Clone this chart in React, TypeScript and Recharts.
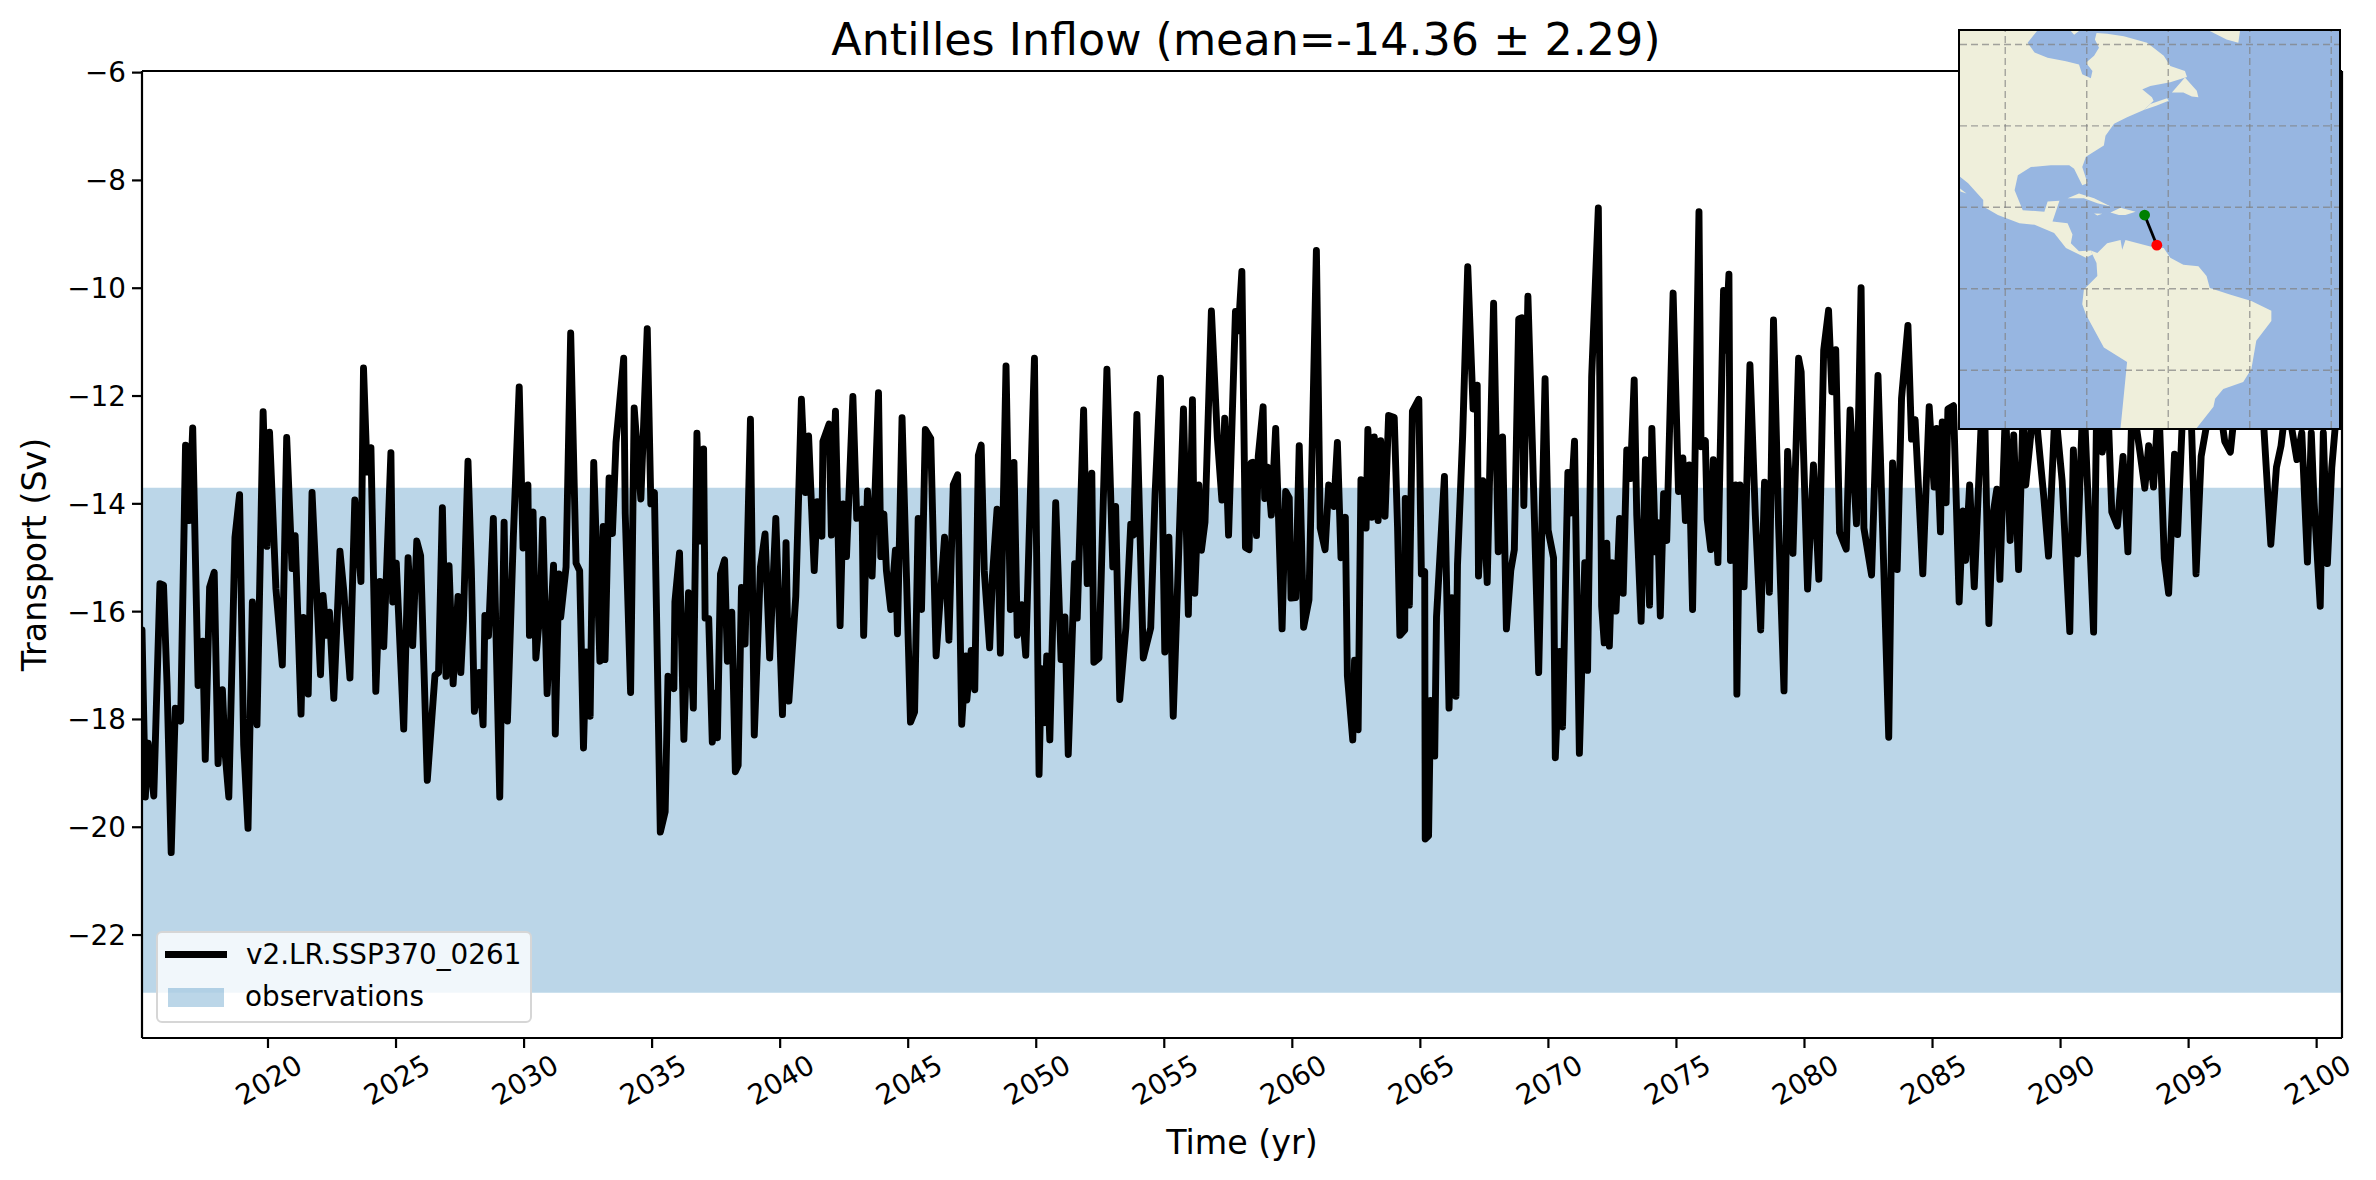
// App.tsx
import {
  ComposedChart,
  LineChart,
  Line,
  XAxis,
  YAxis,
  Label,
  ReferenceArea,
  ReferenceLine,
} from "recharts";

const FONT = "DejaVu Sans";

// [year, transport in Sv] at the turning points of the curve
const transport2015to2036 = [
  [2015.08, -16.34], [2015.21, -19.44], [2015.32, -18.44], [2015.54, -19.42], [2015.78, -15.48], [2015.92, -15.51],
  [2016.06, -17.37], [2016.22, -20.47], [2016.38, -17.79], [2016.59, -18.03], [2016.78, -12.91], [2016.92, -14.31],
  [2017.06, -12.59], [2017.27, -17.37], [2017.45, -16.55], [2017.55, -18.74], [2017.72, -15.55], [2017.9, -15.27],
  [2018.05, -18.82], [2018.22, -17.45], [2018.33, -18.65], [2018.47, -19.44], [2018.71, -14.62], [2018.89, -13.83],
  [2019.05, -18.47], [2019.22, -20.02], [2019.39, -15.82], [2019.57, -18.1], [2019.81, -12.29], [2019.96, -14.79],
  [2020.06, -12.67], [2020.31, -15.58], [2020.56, -16.99], [2020.73, -12.77], [2020.94, -15.2], [2021.06, -14.59],
  [2021.29, -17.9], [2021.38, -16.11], [2021.57, -17.53], [2021.72, -13.79], [2022.05, -17.17], [2022.15, -15.7],
  [2022.28, -16.44], [2022.4, -16.01], [2022.57, -17.61], [2022.81, -14.88], [2022.96, -15.62], [2023.2, -17.23],
  [2023.39, -13.93], [2023.63, -15.44], [2023.73, -11.48], [2023.87, -13.41], [2024.02, -12.96], [2024.21, -17.48],
  [2024.37, -15.44], [2024.52, -16.65], [2024.8, -13.05], [2024.87, -15.82], [2025.01, -15.1], [2025.3, -18.18],
  [2025.47, -15.0], [2025.65, -16.63], [2025.81, -14.69], [2025.96, -14.96], [2026.22, -19.13], [2026.52, -17.18],
  [2026.66, -17.13], [2026.81, -14.07], [2026.95, -17.2], [2027.07, -15.15], [2027.23, -17.34], [2027.42, -15.72],
  [2027.53, -17.13], [2027.63, -16.17], [2027.81, -13.21], [2027.94, -15.2], [2028.06, -17.85], [2028.25, -17.13],
  [2028.4, -18.1], [2028.47, -16.07], [2028.61, -16.45], [2028.8, -14.27], [2029.05, -19.44], [2029.22, -14.34],
  [2029.35, -18.03], [2029.58, -14.62], [2029.81, -11.83], [2029.96, -14.82], [2030.15, -13.65], [2030.21, -16.44],
  [2030.35, -14.15], [2030.46, -16.86], [2030.63, -15.96], [2030.73, -14.29], [2030.9, -17.52], [2031.15, -15.14],
  [2031.22, -18.27], [2031.36, -15.3], [2031.43, -16.1], [2031.64, -15.17], [2031.82, -10.83], [2032.03, -15.1],
  [2032.17, -15.24], [2032.32, -18.53], [2032.42, -16.75], [2032.58, -17.94], [2032.72, -13.23], [2032.96, -16.92],
  [2033.09, -14.42], [2033.16, -16.89], [2033.32, -13.52], [2033.45, -14.55], [2033.59, -12.86], [2033.89, -11.3],
  [2033.95, -14.17], [2034.16, -17.5], [2034.3, -12.22], [2034.56, -13.91], [2034.81, -10.75], [2034.95, -14.0],
  [2035.09, -13.79], [2035.32, -20.09], [2035.51, -19.71], [2035.62, -17.2], [2035.85, -17.43], [2035.89, -15.82],
  [2036.07, -14.91], [2036.24, -18.37], [2036.42, -15.65],
];

const transport2036to2057 = [
  [2036.61, -17.79], [2036.75, -12.69], [2036.86, -14.69], [2037.01, -12.98], [2037.07, -16.12], [2037.21, -16.13],
  [2037.35, -18.42], [2037.48, -17.51], [2037.55, -18.34], [2037.67, -15.3], [2037.83, -15.04], [2037.94, -16.92],
  [2038.11, -16.01], [2038.25, -18.97], [2038.36, -18.85], [2038.49, -15.55], [2038.63, -16.6], [2038.84, -12.43],
  [2038.99, -18.29], [2039.23, -15.17], [2039.41, -14.56], [2039.59, -16.86], [2039.83, -14.27], [2040.09, -17.91],
  [2040.23, -14.72], [2040.34, -17.66], [2040.61, -15.72], [2040.83, -12.06], [2040.99, -13.79], [2041.11, -12.74],
  [2041.33, -15.24], [2041.45, -13.96], [2041.63, -14.6], [2041.67, -12.84], [2041.91, -12.52], [2042.0, -14.58],
  [2042.16, -12.28], [2042.34, -16.26], [2042.46, -14.0], [2042.59, -14.98], [2042.84, -12.01], [2042.99, -14.27],
  [2043.2, -14.1], [2043.26, -16.44], [2043.41, -13.76], [2043.59, -15.34], [2043.84, -11.94], [2043.93, -14.98],
  [2044.05, -14.19], [2044.15, -15.24], [2044.32, -15.96], [2044.5, -14.86], [2044.58, -16.41], [2044.76, -12.4],
  [2045.09, -18.05], [2045.25, -17.86], [2045.39, -14.27], [2045.52, -15.96], [2045.67, -12.62], [2045.88, -12.79],
  [2046.09, -16.82], [2046.42, -14.62], [2046.59, -16.53], [2046.76, -13.65], [2046.93, -13.46], [2047.09, -18.09],
  [2047.25, -16.82], [2047.29, -17.64], [2047.46, -16.72], [2047.6, -17.45], [2047.74, -13.1], [2047.85, -12.91],
  [2047.97, -15.24], [2048.18, -16.67], [2048.29, -15.34], [2048.47, -14.1], [2048.6, -16.77], [2048.82, -11.44],
  [2048.99, -15.96], [2049.13, -13.23], [2049.26, -16.44], [2049.44, -15.87], [2049.59, -16.81], [2049.76, -14.0],
  [2049.93, -11.3], [2050.11, -19.02], [2050.2, -17.06], [2050.32, -18.06], [2050.41, -16.82], [2050.53, -18.38],
  [2050.76, -13.98], [2050.97, -16.89], [2051.12, -16.1], [2051.25, -18.65], [2051.5, -15.11], [2051.6, -16.12],
  [2051.85, -12.26], [2051.99, -15.48], [2052.17, -13.43], [2052.25, -16.94], [2052.45, -16.86], [2052.76, -11.5],
  [2052.99, -15.17], [2053.1, -14.05], [2053.26, -17.63], [2053.5, -16.3], [2053.69, -14.38], [2053.8, -14.58],
  [2053.93, -12.34], [2054.18, -16.86], [2054.47, -16.3], [2054.64, -13.83], [2054.85, -11.67], [2055.02, -16.75],
  [2055.18, -14.62], [2055.35, -17.94], [2055.75, -12.24], [2055.94, -16.05], [2056.1, -12.07], [2056.19, -15.66],
  [2056.35, -13.65], [2056.45, -14.86], [2056.59, -14.34], [2056.84, -10.42], [2057.07, -12.76], [2057.25, -13.93],
  [2057.36, -12.41], [2057.51, -14.58],
];

const transport2057to2079 = [
  [2057.78, -10.43], [2057.89, -10.79], [2058.03, -9.69], [2058.17, -14.81], [2058.31, -14.85], [2058.39, -13.24],
  [2058.46, -13.23], [2058.6, -14.59], [2058.67, -13.12], [2058.86, -12.2], [2058.92, -13.9], [2059.03, -13.32],
  [2059.18, -14.21], [2059.35, -12.6], [2059.6, -16.32], [2059.74, -13.77], [2059.88, -13.89], [2059.95, -15.75],
  [2060.13, -15.74], [2060.27, -12.92], [2060.44, -16.29], [2060.65, -15.78], [2060.94, -9.3], [2061.09, -14.45],
  [2061.28, -14.85], [2061.42, -13.65], [2061.62, -14.05], [2061.76, -12.86], [2061.9, -15.0], [2062.07, -14.25],
  [2062.15, -17.19], [2062.36, -18.38], [2062.43, -16.9], [2062.57, -18.19], [2062.68, -13.55], [2062.88, -14.45],
  [2062.95, -12.62], [2063.1, -14.25], [2063.2, -12.76], [2063.35, -14.31], [2063.45, -12.83], [2063.62, -14.23],
  [2063.76, -12.36], [2063.98, -12.4], [2064.11, -14.45], [2064.2, -16.44], [2064.39, -16.34], [2064.41, -13.9],
  [2064.57, -15.88], [2064.69, -12.28], [2064.94, -12.06], [2065.04, -15.3], [2065.17, -15.26], [2065.19, -20.22],
  [2065.32, -20.16], [2065.4, -17.65], [2065.56, -18.68], [2065.63, -16.1], [2065.94, -13.49], [2066.12, -17.79],
  [2066.23, -15.74], [2066.39, -17.57], [2066.45, -15.13], [2066.65, -12.76], [2066.85, -9.6], [2067.06, -12.24],
  [2067.22, -11.8], [2067.27, -15.34], [2067.44, -13.57], [2067.61, -15.46], [2067.86, -10.28], [2068.04, -14.89],
  [2068.21, -12.76], [2068.36, -16.32], [2068.53, -15.24], [2068.67, -14.85], [2068.84, -10.57], [2068.96, -10.55],
  [2069.04, -14.03], [2069.2, -10.15], [2069.37, -12.84], [2069.62, -17.13], [2069.87, -11.68], [2069.99, -14.49],
  [2070.2, -15.0], [2070.27, -18.71], [2070.44, -16.74], [2070.55, -18.14], [2070.76, -13.42], [2070.86, -14.17],
  [2071.02, -12.84], [2071.21, -18.63], [2071.42, -15.09], [2071.53, -17.09], [2071.69, -11.64], [2071.95, -8.51],
  [2072.08, -15.9], [2072.18, -16.58], [2072.28, -14.73], [2072.38, -16.64], [2072.48, -15.09], [2072.64, -15.99],
  [2072.78, -14.27], [2072.92, -15.66], [2073.06, -13.0], [2073.2, -13.53], [2073.35, -11.7], [2073.45, -14.21],
  [2073.62, -16.18], [2073.79, -13.18], [2073.95, -15.88], [2074.04, -12.6], [2074.18, -14.89], [2074.27, -14.35],
  [2074.37, -16.08], [2074.5, -13.81], [2074.62, -14.68], [2074.87, -10.09], [2075.08, -13.77], [2075.25, -13.15],
  [2075.35, -14.31], [2075.5, -13.28], [2075.63, -15.96], [2075.88, -8.58], [2075.96, -12.94], [2076.13, -12.83],
  [2076.2, -14.29], [2076.34, -14.85], [2076.44, -13.18], [2076.62, -15.09], [2076.84, -10.04], [2076.91, -11.15],
  [2077.05, -9.74], [2077.11, -15.05], [2077.31, -13.65], [2077.36, -17.53], [2077.48, -13.65], [2077.64, -15.54],
  [2077.87, -11.42], [2078.08, -14.21], [2078.29, -16.34], [2078.44, -13.6], [2078.63, -15.64], [2078.79, -10.59],
  [2078.99, -14.41], [2079.2, -17.47], [2079.34, -13.03],
];

// the peaks behind the inset map are guesses, only their lower flanks can be seen
const transport2079to2100 = [
  [2079.55, -14.92], [2079.77, -11.3], [2079.87, -11.55], [2080.12, -15.58], [2080.35, -13.28], [2080.56, -15.4],
  [2080.75, -11.15], [2080.94, -10.41], [2081.07, -11.92], [2081.22, -11.14], [2081.37, -14.53], [2081.63, -14.84],
  [2081.78, -12.26], [2082.03, -14.37], [2082.21, -9.99], [2082.32, -14.45], [2082.62, -15.32], [2082.87, -11.62],
  [2083.1, -15.26], [2083.29, -18.33], [2083.44, -13.24], [2083.62, -15.22], [2083.79, -12.04], [2084.04, -10.69],
  [2084.18, -12.8], [2084.32, -12.44], [2084.62, -15.3], [2084.87, -12.2], [2085.06, -13.69], [2085.16, -12.6],
  [2085.31, -14.52], [2085.38, -12.48], [2085.53, -13.98], [2085.6, -12.24], [2085.82, -12.18], [2086.04, -15.82],
  [2086.19, -14.13], [2086.29, -15.05], [2086.45, -13.65], [2086.63, -15.54], [2087.0, -11.4], [2087.2, -16.22],
  [2087.37, -14.17], [2087.51, -13.73], [2087.63, -15.4], [2087.85, -12.2], [2088.03, -14.68], [2088.17, -12.72],
  [2088.36, -15.22], [2088.54, -12.2], [2088.64, -13.65], [2088.98, -12.04], [2089.35, -13.9], [2089.53, -14.97],
  [2089.79, -12.2], [2090.06, -13.57], [2090.36, -16.37], [2090.5, -13.0], [2090.66, -14.93], [2090.89, -11.8],
  [2091.29, -16.38], [2091.41, -12.2], [2091.63, -13.04], [2091.85, -12.2], [2092.0, -14.15], [2092.22, -14.41],
  [2092.44, -13.12], [2092.63, -14.89], [2092.8, -12.04], [2093.1, -13.04], [2093.29, -13.71], [2093.44, -12.92],
  [2093.63, -13.69], [2093.83, -12.04], [2094.05, -15.01], [2094.22, -15.66], [2094.45, -13.08], [2094.57, -14.57],
  [2094.79, -12.04], [2095.08, -12.04], [2095.29, -15.3], [2095.49, -13.12], [2095.74, -12.44], [2096.18, -12.04],
  [2096.41, -12.84], [2096.63, -13.04], [2096.85, -12.04], [2097.87, -12.04], [2098.21, -14.75], [2098.43, -13.32],
  [2098.61, -12.92], [2098.83, -12.04], [2099.23, -13.18], [2099.42, -12.68], [2099.64, -15.08], [2099.79, -12.68],
  [2099.9, -13.97], [2100.14, -15.9], [2100.26, -12.68], [2100.42, -15.11], [2100.59, -13.33], [2100.82, -12.04],
];

const yearTicks = [2020, 2025, 2030, 2035, 2040, 2045, 2050, 2055, 2060, 2065, 2070, 2075, 2080, 2085, 2090, 2095, 2100];
const transportTicks = [-22, -20, -18, -16, -14, -12, -10, -8, -6];
const observations = [-23.07, -13.7];

const lonRange = [-111.1, -18.1];
const latRange = [-34.2, 63.3];
const lonGrid = [-100, -80, -60, -40, -20];
const latGrid = [60, 40, 20, 0, -20];
const sectionLon = [-65.8, -62.8];
const sectionLat = [18.1, 10.7];

// rough coastlines as [lon, lat]
const northAmerica = [
  [-111.1, 63.3], [-92.2, 63.3], [-94.5, 60.4], [-92.8, 58.0], [-89.6, 56.7], [-85.1, 55.9], [-81.9, 55.1],
  [-81.1, 52.7], [-79.0, 51.7], [-78.6, 53.5], [-80.2, 55.5], [-78.2, 57.2], [-77.0, 59.2], [-78.0, 61.2],
  [-77.6, 62.8], [-75.0, 62.6], [-70.9, 62.0], [-65.2, 60.4], [-61.1, 57.2], [-59.5, 54.7], [-55.9, 53.5],
  [-55.4, 52.0], [-59.5, 50.7], [-64.4, 49.8], [-70.5, 47.2], [-66.4, 49.0], [-64.0, 47.0], [-63.6, 46.2],
  [-66.0, 43.9], [-70.1, 42.1], [-73.3, 40.5], [-75.4, 37.6], [-75.8, 35.2], [-80.2, 32.4], [-81.1, 29.9],
  [-79.8, 25.9], [-81.1, 25.4], [-83.1, 29.5], [-84.3, 30.3], [-88.8, 30.3], [-93.7, 29.9], [-96.9, 27.9],
  [-97.7, 24.2], [-95.7, 19.3], [-90.4, 18.9], [-89.6, 21.4], [-86.7, 21.6], [-88.4, 16.5], [-84.7, 16.1],
  [-83.5, 13.3], [-83.9, 11.2], [-81.9, 9.2], [-79.0, 9.4], [-78.6, 8.4], [-80.2, 7.6], [-85.1, 10.0],
  [-88.0, 13.7], [-92.8, 15.7], [-96.5, 16.1], [-101.8, 18.1], [-105.4, 20.2], [-105.4, 21.8], [-109.1, 25.9],
  [-111.1, 27.5],
];
const southAmerica = [
  [-79.0, 9.4], [-77.4, 8.8], [-75.0, 11.2], [-71.7, 12.0], [-71.3, 9.6], [-70.5, 12.0], [-64.4, 10.4],
  [-61.1, 10.0], [-59.5, 7.6], [-56.3, 5.9], [-52.6, 5.5], [-50.6, 3.1], [-49.8, 0.2], [-44.9, -1.4],
  [-39.6, -3.0], [-34.7, -5.4], [-34.7, -7.9], [-38.4, -12.8], [-39.6, -19.7], [-41.6, -22.9], [-46.5, -24.6],
  [-48.5, -27.0], [-48.9, -29.0], [-53.0, -34.2], [-71.7, -34.2], [-70.1, -18.0], [-75.8, -14.4], [-80.2, -6.3],
  [-81.1, -3.8], [-80.7, -0.2], [-77.4, 3.1], [-77.6, 6.3], [-78.6, 8.4],
];
const cuba = [[-84.7, 22.2], [-81.9, 23.4], [-78.2, 22.2], [-74.1, 20.2], [-77.4, 21.0], [-80.7, 22.2]];
const hispaniola = [[-74.2, 18.7], [-71.7, 19.9], [-68.0, 18.9], [-70.5, 18.1], [-72.1, 18.1]];
const jamaica = [[-78.2, 18.5], [-76.2, 18.4], [-77.4, 18.0]];
const greenland = [[-49.8, 63.3], [-42.4, 63.3], [-42.8, 60.4], [-45.7, 61.2]];
const newfoundland = [[-59.1, 48.2], [-55.9, 51.9], [-53.0, 48.6], [-52.6, 47.0], [-54.2, 47.2], [-56.3, 48.2]];
const novaScotia = [[-66.0, 43.9], [-64.4, 45.4], [-60.3, 46.8], [-59.9, 46.2], [-62.8, 45.0]];
const baffin = [[-83.9, 63.3], [-81.9, 63.3], [-83.1, 62.4]];
const baja = [[-111.1, 24.6], [-109.5, 23.4], [-111.0, 23.9]];
const landMasses = [northAmerica, southAmerica, cuba, hispaniola, jamaica, greenland, newfoundland, novaScotia, baffin, baja];

const series = [...transport2015to2036, ...transport2036to2057, ...transport2057to2079, ...transport2079to2100].map(
  ([year, value]) => ({ year, value })
);
const section = sectionLon.map((lon, i) => ({ lon, lat: sectionLat[i] }));

const YearTick = ({ x, y, payload }: any) => (
  <text
    transform={`translate(${x + 1}, ${y + 30}) rotate(-30)`}
    textAnchor="middle"
    dominantBaseline="central"
    fill="#000"
    fontSize={27.8}
    fontFamily={FONT}
  >
    {payload.value}
  </text>
);

const formatTransport = (v: number) => `\u2212${Math.abs(v)}`;

const ObsLegend = () => (
  <div
    style={{
      position: "absolute",
      left: 156,
      top: 931,
      width: 376,
      height: 92,
      boxSizing: "border-box",
      background: "rgba(255,255,255,0.8)",
      border: "2px solid #d6d6d6",
      borderRadius: 6,
      fontFamily: FONT,
      fontSize: 27.8,
      color: "#000",
    }}
  >
    <div style={{ position: "absolute", left: 7, top: 18, width: 62, height: 7, background: "#000" }} />
    <div style={{ position: "absolute", left: 88, top: 4, lineHeight: "36px", whiteSpace: "nowrap" }}>v2.LR.SSP370_0261</div>
    <div style={{ position: "absolute", left: 10, top: 55, width: 56, height: 19, background: "#1f77b4", opacity: 0.3 }} />
    <div style={{ position: "absolute", left: 87, top: 46, lineHeight: "36px", whiteSpace: "nowrap" }}>observations</div>
  </div>
);

// land is drawn on the plot rectangle handed over by the ReferenceArea
const MapBase = ({ x, y, width, height }: any) => {
  const px = (lon: number) => x + ((lon - lonRange[0]) / (lonRange[1] - lonRange[0])) * width;
  const py = (lat: number) => y + ((latRange[1] - lat) / (latRange[1] - latRange[0])) * height;
  return (
    <g>
      <rect x={x} y={y} width={width} height={height} fill="#97b6e1" />
      {landMasses.map((land, i) => (
        <polygon key={i} points={land.map(([lon, lat]) => `${px(lon)},${py(lat)}`).join(" ")} fill="#efefdb" />
      ))}
    </g>
  );
};

const SectionDot = ({ cx, cy, index }: any) => (
  <circle key={index} cx={cx} cy={cy} r={5.4} fill={index === 0 ? "#008000" : "#ff0000"} />
);

const MapInset = () => (
  <div style={{ position: "absolute", left: 1958, top: 29, width: 383, height: 401, boxSizing: "border-box", border: "2px solid #000" }}>
    <LineChart width={379} height={397} data={section} margin={{ top: 0, right: 0, bottom: 0, left: 0 }}>
      <XAxis dataKey="lon" type="number" domain={lonRange} hide allowDataOverflow />
      <YAxis type="number" domain={latRange} hide allowDataOverflow width={0} />
      <ReferenceArea x1={lonRange[0]} x2={lonRange[1]} y1={latRange[0]} y2={latRange[1]} shape={MapBase} />
      {lonGrid.map((lon) => (
        <ReferenceLine key={lon} x={lon} stroke="#808080" strokeOpacity={0.7} strokeWidth={1.4} strokeDasharray="7 4" />
      ))}
      {latGrid.map((lat) => (
        <ReferenceLine key={lat} y={lat} stroke="#808080" strokeOpacity={0.7} strokeWidth={1.4} strokeDasharray="7 4" />
      ))}
      <Line dataKey="lat" stroke="#000" strokeWidth={2.8} dot={SectionDot} isAnimationActive={false} />
    </LineChart>
  </div>
);

export default function App() {
  return (
    <div style={{ position: "absolute", left: 0, top: 0, width: 2376, height: 1180, background: "#fff" }}>
      <ComposedChart width={2376} height={1180} data={series} margin={{ top: 71, right: 34, bottom: 0, left: 0 }}>
        <XAxis
          dataKey="year"
          type="number"
          domain={[2015.08, 2100.99]}
          ticks={yearTicks}
          interval={0}
          height={142}
          allowDataOverflow
          stroke="#000"
          strokeWidth={2.2}
          tickSize={10}
          tick={YearTick}
        >
          <Label value="Time (yr)" position="insideBottom" offset={26} fill="#000" fontSize={33.3} fontFamily={FONT} />
        </XAxis>
        <YAxis
          type="number"
          domain={[-23.91, -5.97]}
          ticks={transportTicks}
          interval={0}
          width={142}
          allowDataOverflow
          stroke="#000"
          strokeWidth={2.2}
          tickSize={10}
          tickMargin={6}
          tickFormatter={formatTransport}
          tick={{ fill: "#000", fontSize: 27.8, fontFamily: FONT }}
        >
          <Label value="Transport (Sv)" angle={-90} position="insideLeft" offset={34} fill="#000" fontSize={33.3} fontFamily={FONT} style={{ textAnchor: "middle" }} />
        </YAxis>
        <ReferenceArea y1={observations[0]} y2={observations[1]} fill="#1f77b4" fillOpacity={0.3} stroke="none" />
        <ReferenceLine y={-5.97} stroke="#000" strokeWidth={2.2} />
        <ReferenceLine x={2100.99} stroke="#000" strokeWidth={2.2} />
        <Line
          dataKey="value"
          stroke="#000"
          strokeWidth={6.9}
          strokeLinejoin="round"
          strokeLinecap="round"
          dot={false}
          isAnimationActive={false}
        />
      </ComposedChart>
      <ObsLegend />
      <div
        style={{
          position: "absolute",
          left: 146,
          width: 2200,
          top: 14,
          textAlign: "center",
          fontFamily: FONT,
          fontSize: 44.4,
          lineHeight: "52px",
          color: "#000",
        }}
      >
        Antilles Inflow (mean=-14.36 ± 2.29)
      </div>
      <MapInset />
    </div>
  );
}
